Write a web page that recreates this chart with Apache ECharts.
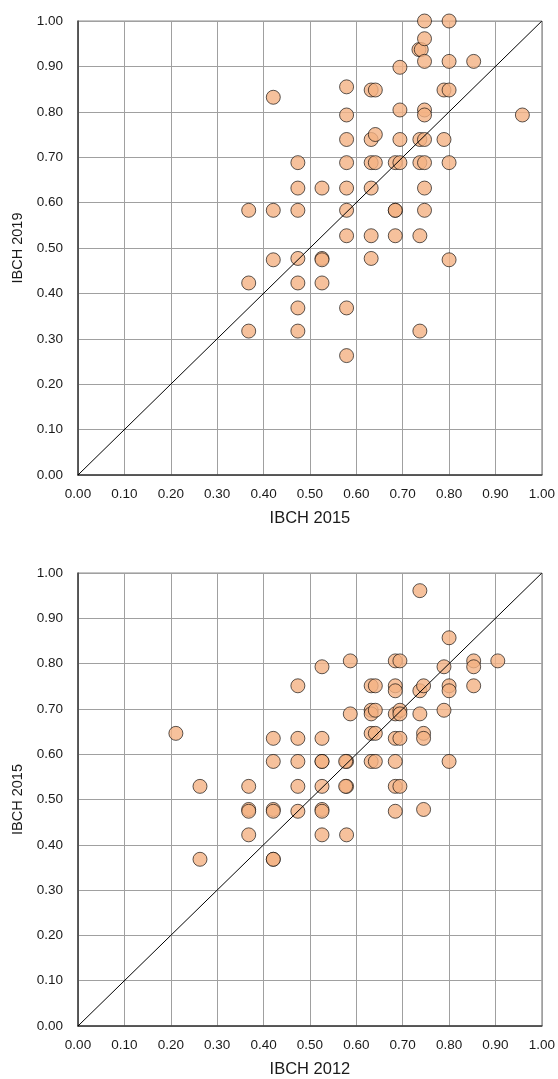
<!DOCTYPE html>
<html>
<head>
<meta charset="utf-8">
<script src="https://cdn.jsdelivr.net/npm/echarts@6/dist/echarts.min.js"></script>
<style>
html,body{margin:0;padding:0;background:#fff;}
#chart{width:558px;height:1079px;}
</style>
</head>
<body>
<div id="chart"></div>
<script>
// Top chart: IBCH 2015 (x) vs IBCH 2019 (y)
const topX = [0.368,0.368,0.368,
  0.421,0.421,0.421,
  0.474,0.474,0.474,0.474,0.474,0.474,0.474,
  0.526,0.526,0.526,0.526,
  0.579,0.579,0.579,0.579,0.579,0.579,0.579,0.579,0.579,
  0.632,0.632,0.632,0.632,0.632,0.632,
  0.641,0.641,0.641,
  0.684,0.684,0.684,0.684,
  0.694,0.694,0.694,0.694,
  0.735,0.740,0.737,0.737,0.737,0.737,
  0.747,0.747,0.747,0.747,0.747,0.747,0.747,0.747,0.747,
  0.789,0.789,
  0.800,0.800,0.800,0.800,0.800,
  0.853,
  0.958];
const topY = [0.583,0.423,0.317,
  0.832,0.583,0.474,
  0.688,0.632,0.583,0.477,0.423,0.368,0.317,
  0.632,0.477,0.474,0.423,
  0.855,0.793,0.739,0.688,0.632,0.583,0.527,0.368,0.263,
  0.848,0.739,0.688,0.632,0.527,0.477,
  0.848,0.750,0.688,
  0.688,0.583,0.583,0.527,
  0.898,0.804,0.739,0.688,
  0.937,0.937,0.739,0.688,0.527,0.317,
  1.000,0.961,0.911,0.804,0.793,0.739,0.688,0.632,0.583,
  0.848,0.739,
  1.000,0.911,0.848,0.688,0.474,
  0.911,
  0.793];

// Bottom chart: IBCH 2012 (x) vs IBCH 2015 (y)
const bottomX = [0.211,
  0.263,0.263,
  0.368,0.368,0.368,0.368,
  0.421,0.421,0.421,0.421,0.421,0.421,
  0.474,0.474,0.474,0.474,0.474,
  0.526,0.526,0.526,0.526,0.526,0.526,0.526,0.526,
  0.579,0.577,0.579,0.577,0.579,
  0.587,0.587,
  0.632,0.632,0.632,0.632,0.632,
  0.641,0.641,0.641,0.641,
  0.684,0.684,0.684,0.684,0.684,0.684,0.684,0.684,
  0.694,0.694,0.694,0.694,0.694,
  0.737,0.737,0.737,
  0.745,0.745,0.745,0.745,
  0.789,0.789,
  0.800,0.800,0.800,0.800,
  0.853,0.853,0.853,
  0.905];
const bottomY = [0.646,
  0.529,0.368,
  0.529,0.478,0.474,0.422,
  0.635,0.584,0.478,0.474,0.368,0.368,
  0.751,0.635,0.584,0.529,0.474,
  0.793,0.635,0.584,0.584,0.529,0.478,0.474,0.422,
  0.584,0.584,0.529,0.529,0.422,
  0.806,0.689,
  0.751,0.697,0.689,0.646,0.584,
  0.751,0.697,0.646,0.584,
  0.806,0.751,0.740,0.689,0.635,0.584,0.529,0.474,
  0.806,0.697,0.689,0.635,0.529,
  0.961,0.740,0.689,
  0.751,0.646,0.635,0.478,
  0.793,0.697,
  0.857,0.751,0.740,0.584,
  0.806,0.793,0.751,
  0.806];

const tickLabels = ['0.00','0.10','0.20','0.30','0.40','0.50','0.60','0.70','0.80','0.90','1.00'];
const axisNames = {topX:'IBCH 2015', topY:'IBCH 2019', bottomX:'IBCH 2012', bottomY:'IBCH 2015'};
const diagonal = [[0,0],[1,1]];

const pair = (xs, ys) => xs.map((x, i) => [x, ys[i]]);
const FONT = 'Liberation Sans, Arial, sans-serif';

function makeAxis(gridIndex, name, isY) {
  return {
    type: 'value', gridIndex: gridIndex, min: 0, max: 1, interval: 0.1,
    name: name, nameLocation: 'middle', nameGap: isY ? 51 : 35,
    nameTextStyle: {fontFamily: FONT, fontSize: isY ? 14.5 : 16.5, color: '#1a1a1a'},
    axisLine: {show: true, lineStyle: {color: '#3a3a3a', width: 1.5}},
    axisTick: {show: false},
    axisLabel: {
      fontFamily: FONT, fontSize: 13.5, color: '#1a1a1a', margin: isY ? 15 : 12,
      formatter: v => tickLabels[Math.round(v * 10)]
    },
    splitLine: {show: true, lineStyle: {color: '#a0a0a0', width: 1}}
  };
}

const chart = echarts.init(document.getElementById('chart'), null, {renderer: 'canvas'});
const markerStyle = {color: '#F4B183', borderColor: '#000', borderWidth: 0.8};
chart.setOption({
  animation: false,
  backgroundColor: '#fff',
  grid: [
    {left: 78, right: 15, top: 21, height: 454, show: true, borderColor: '#8c8c8c', borderWidth: 1},
    {left: 78, right: 15, top: 573, height: 454, show: true, borderColor: '#8c8c8c', borderWidth: 1}
  ],
  xAxis: [makeAxis(0, axisNames.topX, false), makeAxis(1, axisNames.bottomX, false)],
  yAxis: [makeAxis(0, axisNames.topY, true), makeAxis(1, axisNames.bottomY, true)],
  series: [
    {type: 'scatter', xAxisIndex: 0, yAxisIndex: 0, data: pair(topX, topY), symbolSize: 14, itemStyle: markerStyle, z: 2},
    {type: 'line', xAxisIndex: 0, yAxisIndex: 0, data: diagonal, showSymbol: false, symbol: 'none', lineStyle: {color: '#000', width: 1}, z: 3, silent: true},
    {type: 'scatter', xAxisIndex: 1, yAxisIndex: 1, data: pair(bottomX, bottomY), symbolSize: 14, itemStyle: markerStyle, z: 2},
    {type: 'line', xAxisIndex: 1, yAxisIndex: 1, data: diagonal, showSymbol: false, symbol: 'none', lineStyle: {color: '#000', width: 1}, z: 3, silent: true}
  ]
});
</script>
</body>
</html>
